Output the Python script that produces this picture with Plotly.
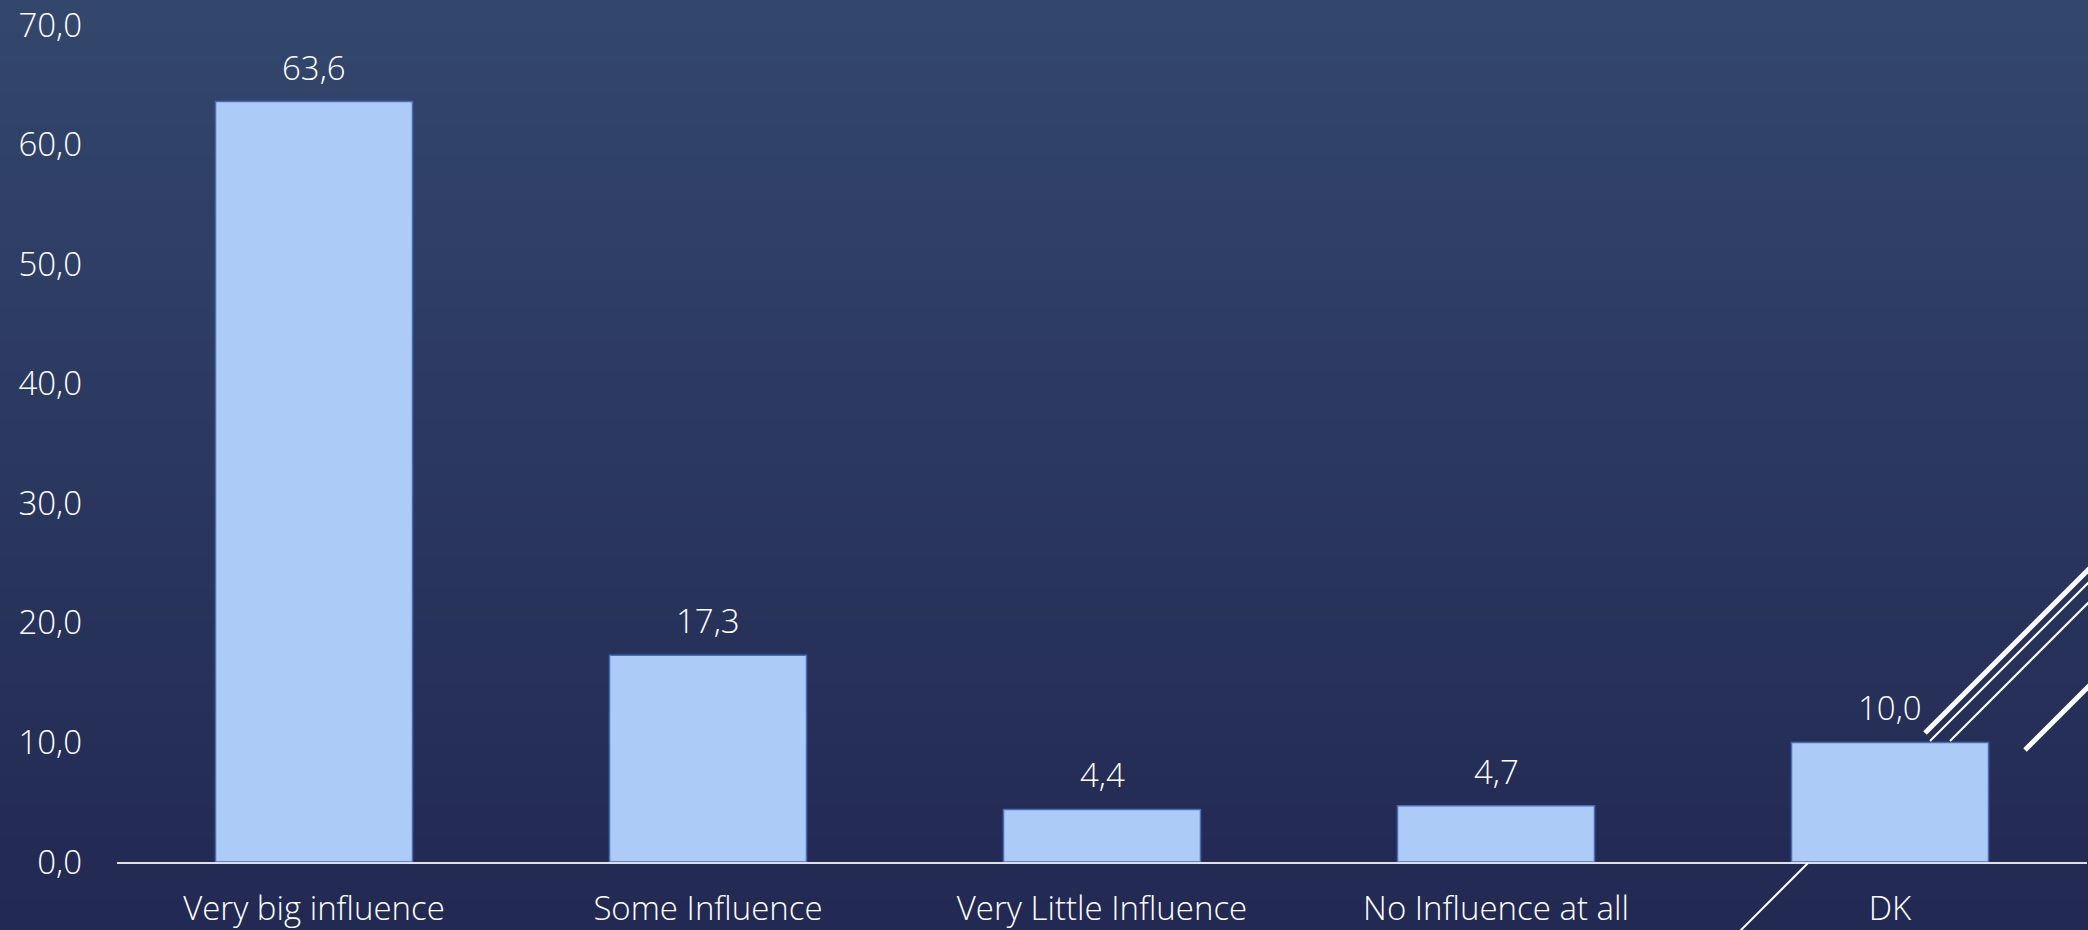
import plotly.graph_objects as go

categories = ["Very big influence", "Some Influence", "Very Little Influence", "No Influence at all", "DK"]
values = [63.6, 17.3, 4.4, 4.7, 10.0]
y_ticks = [0, 10, 20, 30, 40, 50, 60, 70]

W, H = 2088, 930
ML, MR, MT, MB = 117, 1, 25, 68
PW, PH = W - ML - MR, H - MT - MB

def px(x):
    return (x - ML) / PW

def py(y):
    return (H - MB - y) / PH

FONT = "Open Sans"
FS = 33

fig = go.Figure()
fig.add_trace(go.Bar(
    x=categories, y=values,
    marker=dict(color="#adcbf7", line=dict(color="#4a6cb8", width=1.5)),
    cliponaxis=False,
    hoverinfo="skip",
))

annotations = []
for c, v in zip(categories, values):
    annotations.append(dict(
        x=c, y=v, xref="x", yref="y",
        text=f"{v:.1f}".replace(".", ","),
        showarrow=False, yanchor="bottom", yshift=10,
        font=dict(family=FONT, size=FS, color="#ffffff", weight=300),
    ))

shapes = []
# background gradient
top = (0x33, 0x46, 0x6b)
bot = (0x22, 0x29, 0x52)
N = 60
for i in range(N):
    t = i / (N - 1)
    col = tuple(round(top[k] + (bot[k] - top[k]) * t) for k in range(3))
    y0 = i * H / N
    y1 = (i + 1) * H / N + 1
    shapes.append(dict(type="rect", xref="paper", yref="paper",
                       x0=px(0), x1=px(W), y0=py(y1), y1=py(y0),
                       fillcolor="rgb(%d,%d,%d)" % col, line=dict(width=0), layer="below"))

# decorative lines
deco = [
    ((1925, 733), (2090, 568), 5),
    ((1930, 741), (2090, 581), 2),
    ((1950, 741), (2090, 601), 2),
    ((2025, 750), (2090, 685), 5),
    ((1808, 863), (1740, 931), 2),
]
for (x0, y0), (x1, y1), w in deco:
    shapes.append(dict(type="line", xref="paper", yref="paper",
                       x0=px(x0), y0=py(y0), x1=px(x1), y1=py(y1),
                       line=dict(color="#ffffff", width=w), layer="above"))

fig.update_layout(
    width=W, height=H,
    margin=dict(l=ML, r=MR, t=MT, b=MB, pad=0),
    paper_bgcolor="#2a3560",
    plot_bgcolor="rgba(0,0,0,0)",
    separators=",.",
    bargap=0.5,
    showlegend=False,
    shapes=shapes,
    annotations=annotations,
    font=dict(family=FONT, color="#ffffff", weight=300),
    xaxis=dict(
        showgrid=False, zeroline=False,
        showline=True, linecolor="#e0e0e0", linewidth=2,
        ticks="", tickfont=dict(family=FONT, size=FS, color="#ffffff", weight=300),
        ticklabelstandoff=16, automargin=False,
    ),
    yaxis=dict(
        range=[0, 70], tickvals=y_ticks, tickformat=".1f",
        showgrid=False, zeroline=False, showline=False,
        ticks="", tickfont=dict(family=FONT, size=FS, color="#ffffff", weight=300),
        ticklabelstandoff=34, ticklabeloverflow="allow", automargin=False,
    ),
)

fig.write_html("out.html", config={"displayModeBar": False},
               post_script="document.body.style.margin='0';document.body.style.overflow='hidden';")
